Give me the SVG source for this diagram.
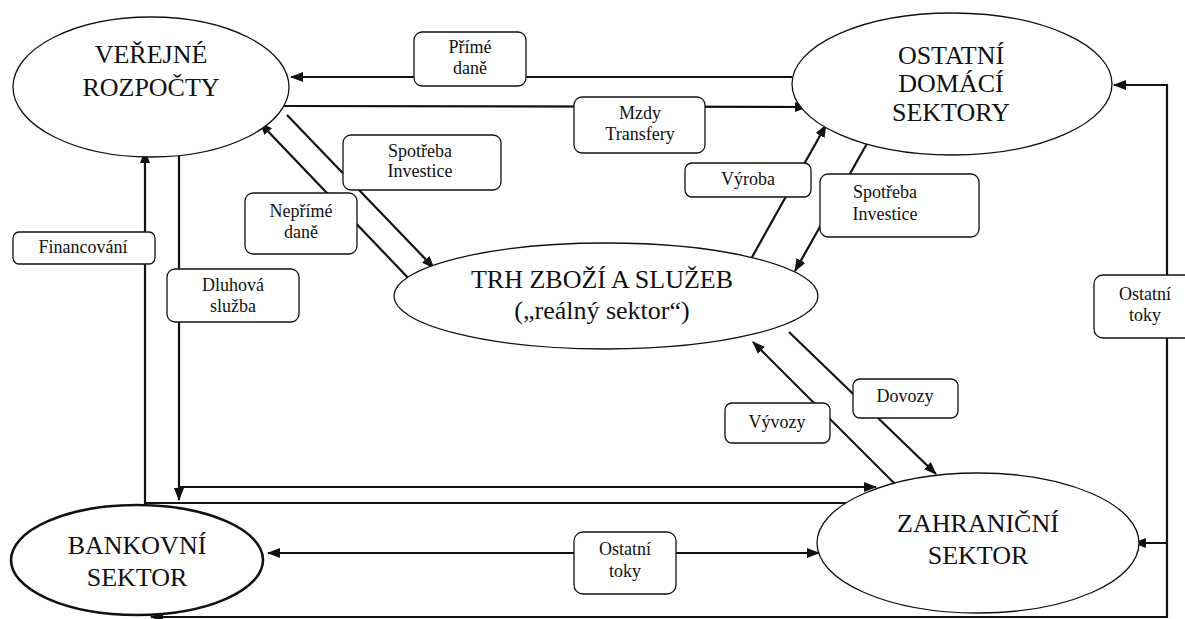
<svg xmlns="http://www.w3.org/2000/svg" width="1185" height="619" viewBox="0 0 1185 619">
<defs>
<style>
.node{fill:#fff;stroke:#111;stroke-width:1.3}
.bank{fill:#fff;stroke:#111;stroke-width:2.6}
.head{font-size:26px;fill:#111;text-anchor:middle}
.lab{font-size:18px;fill:#111;text-anchor:middle}
.box{fill:#fff;stroke:#111;stroke-width:1.3}
.con{fill:none;stroke:#111;stroke-width:2.2}
</style>
<marker id="ah" viewBox="0 0 13 10" refX="12" refY="5" markerWidth="13" markerHeight="10" markerUnits="userSpaceOnUse" orient="auto-start-reverse">
<path d="M0,0 L13,5 L0,10 z" fill="#111"/>
</marker>
</defs>
<rect width="1185" height="619" fill="#fff"/>

<g id="connectors">
<path class="con" d="M792,77 H291" marker-end="url(#ah)"/>
<path class="con" d="M284,106 L807,107" marker-end="url(#ah)"/>
<path class="con" d="M287,115 L434,268" marker-end="url(#ah)"/>
<path class="con" d="M413,283 L260,123" marker-end="url(#ah)"/>
<path class="con" d="M751,259 L826,125" marker-end="url(#ah)"/>
<path class="con" d="M869,140 L795,271" marker-end="url(#ah)"/>
<path class="con" d="M789,332 L936,474" marker-end="url(#ah)"/>
<path class="con" d="M895,484 L753,342" marker-end="url(#ah)"/>
<path class="con" d="M855,503 H145 V151" marker-end="url(#ah)"/>
<path class="con" d="M179,154 V487 H876" marker-end="url(#ah)"/>
<path class="con" d="M179,487 V500" marker-end="url(#ah)"/>
<path class="con" d="M268,553 H819" marker-start="url(#ah)" marker-end="url(#ah)"/>
<path class="con" d="M1114,85 H1167 V617 H151" marker-start="url(#ah)" marker-end="url(#ah)"/>
<path class="con" d="M1167,543 H1134" marker-end="url(#ah)"/>
</g>

<g id="nodes" font-family="Liberation Serif, serif">
<g id="node-verejne-rozpocty">
<ellipse class="node" cx="151" cy="87" rx="138" ry="70"/>
<text class="head" x="151" y="63">VEŘEJNÉ</text>
<text class="head" x="151" y="96">ROZPOČTY</text>
</g>
<g id="node-ostatni-domaci-sektory">
<ellipse class="node" cx="952" cy="84" rx="160" ry="71"/>
<text class="head" x="951" y="64">OSTATNÍ</text>
<text class="head" x="951" y="92">DOMÁCÍ</text>
<text class="head" x="951" y="121">SEKTORY</text>
</g>
<g id="node-trh">
<ellipse class="node" cx="606" cy="296" rx="212" ry="53"/>
<text class="head" x="602" y="288">TRH ZBOŽÍ A SLUŽEB</text>
<text class="head" x="602" y="319">(„reálný sektor“)</text>
</g>
<g id="node-zahranicni-sektor">
<ellipse class="node" cx="978" cy="543" rx="161" ry="70"/>
<text class="head" x="978" y="532">ZAHRANIČNÍ</text>
<text class="head" x="978" y="564">SEKTOR</text>
</g>
<g id="node-bankovni-sektor">
<ellipse class="bank" cx="137" cy="560" rx="126" ry="55"/>
<text class="head" x="137" y="554">BANKOVNÍ</text>
<text class="head" x="137" y="586">SEKTOR</text>
</g>
</g>

<g id="labels" font-family="Liberation Serif, serif">
<g id="label-prime-dane">
<rect class="box" x="414" y="32" width="112" height="54" rx="8"/>
<text class="lab" x="470" y="53">Přímé</text>
<text class="lab" x="470" y="74">daně</text>
</g>
<g id="label-mzdy">
<rect class="box" x="574" y="97" width="131" height="56" rx="8"/>
<text class="lab" x="640" y="119">Mzdy</text>
<text class="lab" x="640" y="140">Transfery</text>
</g>
<g id="label-spotreba-l">
<rect class="box" x="343" y="135" width="158" height="55" rx="8"/>
<text class="lab" x="420" y="157">Spotřeba</text>
<text class="lab" x="420" y="177">Investice</text>
</g>
<g id="label-neprime">
<rect class="box" x="245" y="193" width="112" height="61" rx="8"/>
<text class="lab" x="301" y="217">Nepřímé</text>
<text class="lab" x="301" y="238">daně</text>
</g>
<g id="label-vyroba">
<rect class="box" x="685" y="163" width="126" height="34" rx="7"/>
<text class="lab" x="748" y="185">Výroba</text>
</g>
<g id="label-spotreba-r">
<rect class="box" x="820" y="174" width="159" height="63" rx="8"/>
<text class="lab" x="885" y="198">Spotřeba</text>
<text class="lab" x="885" y="220">Investice</text>
</g>
<g id="label-financovani">
<rect class="box" x="13" y="232" width="142" height="32" rx="6"/>
<text class="lab" x="83" y="253">Financování</text>
</g>
<g id="label-dluhova">
<rect class="box" x="167" y="269" width="132" height="53" rx="8"/>
<text class="lab" x="233" y="291">Dluhová</text>
<text class="lab" x="233" y="312">služba</text>
</g>
<g id="label-dovozy">
<rect class="box" x="853" y="379" width="105" height="39" rx="7"/>
<text class="lab" x="905" y="402">Dovozy</text>
</g>
<g id="label-vyvozy">
<rect class="box" x="725" y="403" width="105" height="40" rx="7"/>
<text class="lab" x="777" y="428">Vývozy</text>
</g>
<g id="label-ostatni-toky-dole">
<rect class="box" x="574" y="532" width="102" height="62" rx="9"/>
<text class="lab" x="625" y="555">Ostatní</text>
<text class="lab" x="625" y="577">toky</text>
</g>
<g id="label-ostatni-toky-vpravo">
<rect class="box" x="1094" y="275" width="102" height="63" rx="9"/>
<text class="lab" x="1145" y="300">Ostatní</text>
<text class="lab" x="1145" y="321">toky</text>
</g>
</g>
</svg>
